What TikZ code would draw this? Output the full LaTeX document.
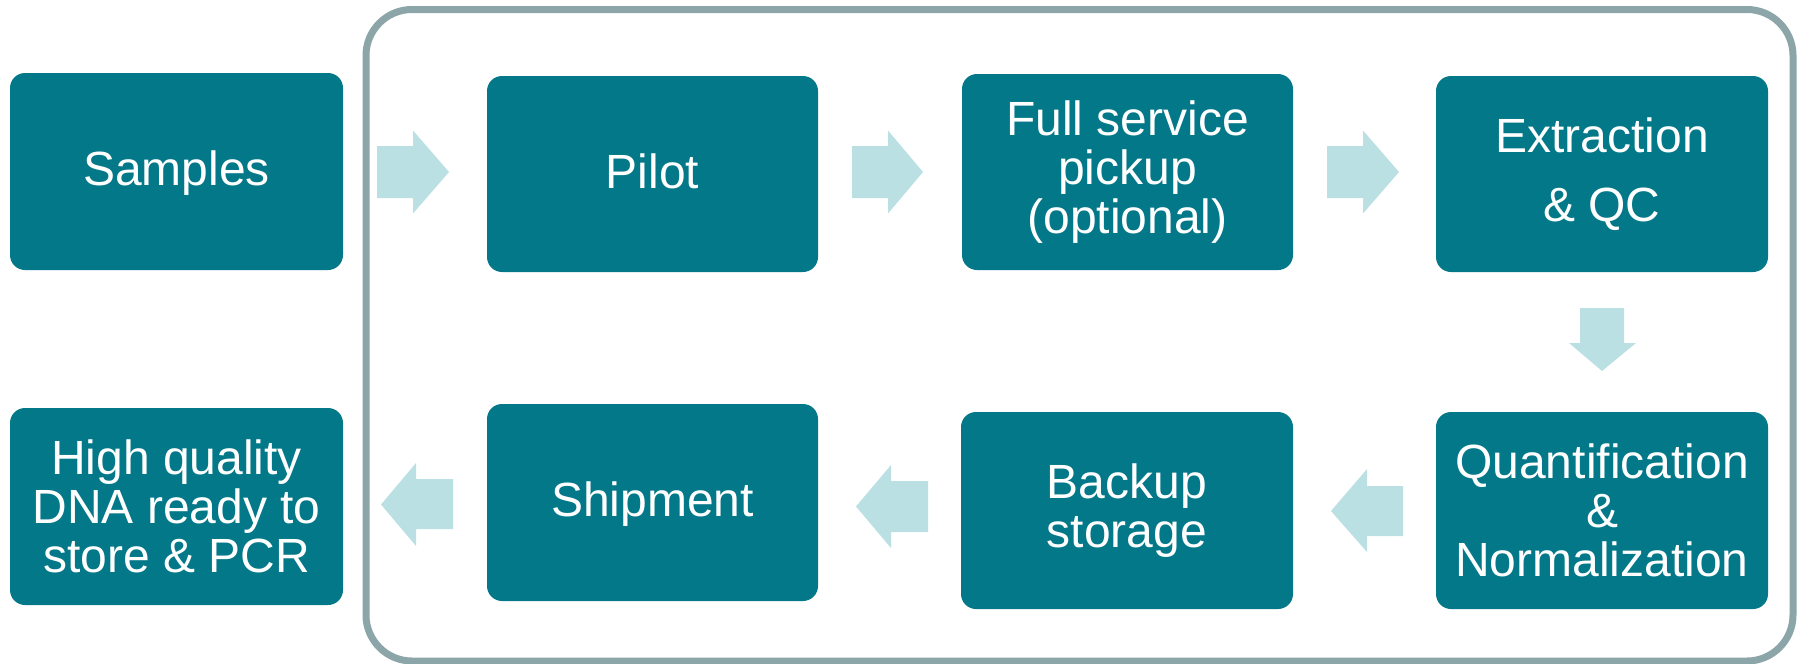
\documentclass[tikz,border=0pt]{standalone}
\usepackage{fontspec}
\setmainfont{Liberation Sans}
\definecolor{boxteal}{HTML}{037889}
\definecolor{arrowlight}{HTML}{BBE0E3}
\definecolor{framegray}{HTML}{8CA5A8}
\begin{document}
\begin{tikzpicture}[x=1pt,y=-1pt,
  stepbox/.style={fill=boxteal, text=white, rounded corners=15pt, inner sep=0pt,
    align=center, font=\fontsize{48}{49}\selectfont},
  oneline/.style={text height=38pt, text depth=10pt},
  blockarrow/.style={fill=arrowlight, draw=none},
  framebox/.style={draw=framegray, line width=7pt, rounded corners=46pt}]
\useasboundingbox (0,0) rectangle (1805,664);
% outer frame
\draw[framebox] (366,9.5) rectangle (1793,661);
% boxes
\node[stepbox, oneline, minimum width=333pt, minimum height=197pt] (samples) at (176.5,171.5) {Samples};
\node[stepbox, oneline, minimum width=331pt, minimum height=196pt] (pilot) at (652.5,174) {Pilot};
\node[stepbox, minimum width=331pt, minimum height=196pt] (pickup) at (1127.5,172) {Full service\\pickup\\(optional)};
\node[stepbox, minimum width=332pt, minimum height=196pt, font=\fontsize{48}{69}\selectfont] (extract) at (1602,174) {Extraction\\\& QC};
\node[stepbox, minimum width=332pt, minimum height=197pt] (quant) at (1602,510.5) {Quantification\\\&\\Normalization};
\node[stepbox, minimum width=332pt, minimum height=197pt] (backup) at (1127,510.5) {Backup\\storage};
\node[stepbox, oneline, minimum width=331pt, minimum height=197pt] (ship) at (652.5,502.5) {Shipment};
\node[stepbox, minimum width=333pt, minimum height=197pt] (dna) at (176.5,506.5) {High quality\\DNA ready to\\store \& PCR};
% block arrows
\fill[blockarrow] (377,146) -- (413,146) -- (413,130.5) -- (449,172) -- (413,213.5) -- (413,198) -- (377,198) -- cycle;
\fill[blockarrow] (852,146) -- (888,146) -- (888,130.5) -- (923,172) -- (888,213.5) -- (888,198) -- (852,198) -- cycle;
\fill[blockarrow] (1327,146) -- (1363,146) -- (1363,130.5) -- (1399,172) -- (1363,213.5) -- (1363,198) -- (1327,198) -- cycle;
\fill[blockarrow] (1580,308) -- (1624,308) -- (1624,343) -- (1636,343) -- (1602,371) -- (1569,343) -- (1580,343) -- cycle;
\fill[blockarrow] (1403,486) -- (1367,486) -- (1367,469) -- (1331,511) -- (1367,552) -- (1367,536) -- (1403,536) -- cycle;
\fill[blockarrow] (928,481) -- (891,481) -- (891,465) -- (856,506.5) -- (891,548) -- (891,532) -- (928,532) -- cycle;
\fill[blockarrow] (453,479) -- (416,479) -- (416,463) -- (381,504.5) -- (416,546) -- (416,529) -- (453,529) -- cycle;
\end{tikzpicture}
\end{document}
